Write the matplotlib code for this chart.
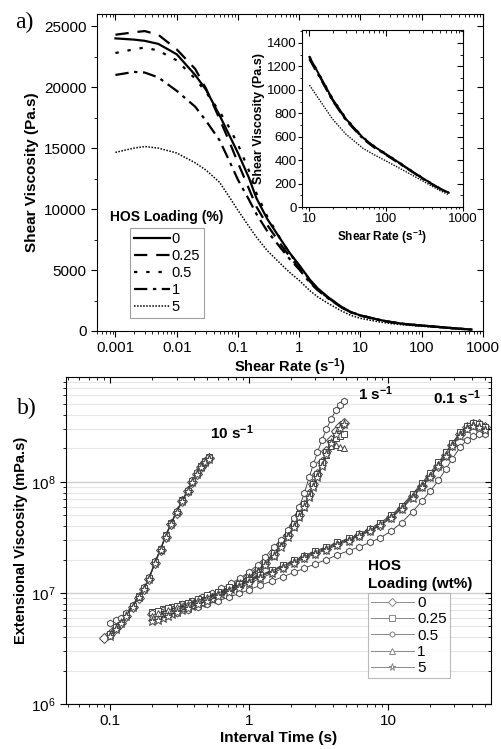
import matplotlib
matplotlib.use('Agg')
import matplotlib.pyplot as plt
import numpy as np
from matplotlib.ticker import LogLocator, MultipleLocator, NullFormatter, FixedLocator, FixedFormatter

plt.rcParams['font.family'] = ['Liberation Sans', 'DejaVu Sans']
plt.rcParams['mathtext.default'] = 'regular'
nan = np.nan

# ---------------- panel a) shear viscosity ----------------
shear_rate = [0.001, 0.002, 0.003, 0.005, 0.01, 0.02, 0.03, 0.05, 0.07, 0.1, 0.15, 0.2, 0.3, 0.5,
              0.7, 1, 1.5, 2, 3, 5, 7, 10, 15, 20, 30, 50, 70, 100, 150, 200, 300, 400, 500, 650]
visc_0 = [24000, 23900, 23800, 23550, 22700, 21000, 19800, 17700, 16200, 14600, 12600, 10900, 9200,
          7500, 6400, 5400, 4200, 3500, 2750, 1950, 1550, 1280, 1070, 920, 750, 590, 515, 450, 375,
          320, 245, 195, 158, 122]
visc_025 = [24300, 24500, 24600, 24300, 23100, 21500, 19900, 17400, 15700, 13800, 11700, 10200, 8700,
            7100, 6100, 5150, 4050, 3400, 2700, 1920, 1530, 1270, 1062, 912, 743, 585, 510, 446, 371,
            317, 242, 193, 156, 120]
visc_05 = [22800, 23100, 23250, 23000, 22200, 20700, 19600, 18000, 16800, 15300, 13200, 11300, 9400,
           7500, 6350, 5350, 4150, 3450, 2720, 1940, 1545, 1285, 1075, 925, 755, 594, 518, 453, 377,
           322, 247, 196, 159, 123]
visc_1 = [21000, 21250, 21200, 20800, 19700, 18400, 17250, 15650, 14100, 12400, 10800, 9600, 8200,
          6800, 5900, 5050, 3950, 3350, 2650, 1900, 1520, 1260, 1055, 905, 738, 580, 506, 443, 368,
          314, 240, 191, 155, 119]
visc_5 = [14650, 15000, 15130, 15000, 14600, 13800, 13200, 12200, 11100, 9900, 8600, 7700, 6600,
          5500, 4800, 4150, 3300, 2800, 2250, 1620, 1280, 1040, 870, 750, 620, 500, 445, 392, 330,
          285, 222, 175, 140, 105]
loadings_a = ['0', '0.25', '0.5', '1', '5']

# ---------------- panel b) extensional viscosity ----------------
loadings_b = ['0', '0.25', '0.5', '1', '5']
markers_b = ['D', 's', 'h', '^', '*']

# 10 s^-1
t10 = [0.09, 0.1, 0.11, 0.12, 0.13, 0.145, 0.16, 0.175, 0.19, 0.21, 0.23, 0.25, 0.275, 0.3, 0.33,
       0.36, 0.39, 0.42, 0.45, 0.48, 0.51]
e10 = {
    '0': [3.9e6, 4.3e6, 4.8e6, 5.4e6, 6.2e6, 7.5e6, 9.0e6, 1.08e7, 1.33e7, 1.85e7, 2.45e7, 3.2e7,
          4.2e7, 5.3e7, 6.7e7, 8.3e7, 1.0e8, 1.18e8, 1.36e8, 1.52e8, 1.65e8],
    '0.25': [nan, 4.3e6, 4.9e6, 5.6e6, 6.4e6, 7.7e6, 9.3e6, 1.1e7, 1.36e7, 1.9e7, 2.5e7, 3.3e7,
             4.3e7, 5.4e7, 6.8e7, 8.3e7, 1.01e8, 1.2e8, 1.38e8, 1.53e8, 1.66e8],
    '0.5': [nan, 5.4e6, 5.7e6, 6.0e6, 6.6e6, 7.8e6, 9.4e6, 1.12e7, 1.38e7, 1.92e7, 2.5e7, 3.3e7,
            4.3e7, 5.5e7, 6.9e7, 8.5e7, 1.03e8, 1.22e8, 1.4e8, 1.55e8, 1.68e8],
    '1': [nan, 4.2e6, 4.8e6, 5.5e6, 6.3e6, 7.6e6, 9.2e6, 1.1e7, 1.35e7, 1.88e7, 2.45e7, 3.25e7,
          4.25e7, 5.4e7, 6.8e7, 8.3e7, 1.0e8, 1.19e8, 1.37e8, 1.52e8, 1.64e8],
    '5': [nan, 4.1e6, 4.7e6, 5.4e6, 6.2e6, 7.5e6, 9.1e6, 1.09e7, 1.34e7, 1.87e7, 2.45e7, 3.2e7,
          4.2e7, 5.35e7, 6.7e7, 8.2e7, 1.0e8, 1.18e8, 1.36e8, 1.5e8, 1.62e8],
}

# 1 s^-1
t1 = [0.2, 0.24, 0.28, 0.33, 0.39, 0.46, 0.54, 0.63, 0.74, 0.86, 1.0, 1.15, 1.3, 1.5, 1.7, 1.9,
      2.1, 2.3, 2.5, 2.7, 2.9, 3.1, 3.35, 3.6, 3.9, 4.2, 4.5, 4.8]
e1 = {
    '0': [6.4e6, 6.8e6, 7.2e6, 7.7e6, 8.2e6, 8.8e6, 9.5e6, 1.04e7, 1.14e7, 1.26e7, 1.42e7, 1.62e7,
          1.86e7, 2.25e7, 2.75e7, 3.35e7, 4.1e7, 5.0e7, 6.2e7, 7.7e7, 9.5e7, 1.17e8, 1.5e8, 1.9e8,
          2.4e8, 2.85e8, 3.2e8, 3.4e8],
    '0.25': [6.8e6, 7.1e6, 7.5e6, 7.9e6, 8.4e6, 9.0e6, 9.7e6, 1.06e7, 1.16e7, 1.28e7, 1.44e7, 1.64e7,
             1.9e7, 2.3e7, 2.8e7, 3.4e7, 4.2e7, 5.1e7, 6.3e7, 7.8e7, 9.6e7, 1.18e8, 1.5e8, 1.85e8,
             2.25e8, 2.5e8, 2.6e8, 2.7e8],
    '0.5': [6.6e6, 7.0e6, 7.4e6, 7.9e6, 8.5e6, 9.2e6, 1.0e7, 1.1e7, 1.22e7, 1.36e7, 1.55e7, 1.8e7,
            2.1e7, 2.6e7, 3.0e7, 3.7e7, 4.7e7, 6.0e7, 8.0e7, 1.1e8, 1.45e8, 1.85e8, 2.4e8, 3.0e8,
            3.7e8, 4.4e8, 4.9e8, 5.3e8],
    '1': [6.2e6, 6.6e6, 7.0e6, 7.5e6, 8.0e6, 8.6e6, 9.3e6, 1.02e7, 1.12e7, 1.24e7, 1.4e7, 1.6e7,
          1.84e7, 2.2e7, 2.7e7, 3.3e7, 4.0e7, 4.9e7, 6.0e7, 7.4e7, 9.1e7, 1.12e8, 1.42e8, 1.75e8,
          2.1e8, 2.15e8, 2.05e8, 2.0e8],
    '5': [5.6e6, 6.0e6, 6.5e6, 7.0e6, 7.6e6, 8.2e6, 8.9e6, 9.8e6, 1.08e7, 1.2e7, 1.36e7, 1.55e7,
          1.78e7, 2.15e7, 2.6e7, 3.2e7, 3.9e7, 4.8e7, 5.9e7, 7.3e7, 9.0e7, 1.1e8, 1.4e8, 1.78e8,
          2.25e8, 2.7e8, 3.05e8, 3.3e8],
}

# 0.1 s^-1
t01 = [0.22, 0.26, 0.3, 0.36, 0.43, 0.5, 0.6, 0.72, 0.85, 1.0, 1.2, 1.45, 1.75, 2.1, 2.5, 3.0,
       3.6, 4.3, 5.2, 6.2, 7.4, 8.8, 10.5, 12.5, 15, 17.5, 20, 23, 26, 29, 33, 37, 41, 45, 50]
e01 = {
    '0': [6.3e6, 6.8e6, 7.2e6, 7.8e6, 8.4e6, 9.0e6, 9.8e6, 1.07e7, 1.16e7, 1.27e7, 1.4e7, 1.55e7,
          1.72e7, 1.9e7, 2.1e7, 2.3e7, 2.5e7, 2.75e7, 3.0e7, 3.3e7, 3.65e7, 4.1e7, 4.8e7, 5.8e7,
          7.4e7, 9.2e7, 1.12e8, 1.4e8, 1.75e8, 2.15e8, 2.7e8, 3.1e8, 3.3e8, 3.3e8, 3.1e8],
    '0.25': [6.9e6, 7.3e6, 7.7e6, 8.2e6, 8.8e6, 9.5e6, 1.03e7, 1.12e7, 1.21e7, 1.32e7, 1.45e7, 1.6e7,
             1.78e7, 1.97e7, 2.17e7, 2.4e7, 2.6e7, 2.85e7, 3.1e7, 3.4e7, 3.8e7, 4.3e7, 5.0e7, 6.1e7,
             7.8e7, 9.8e7, 1.2e8, 1.5e8, 1.85e8, 2.25e8, 2.8e8, 3.2e8, 3.4e8, 3.35e8, 3.15e8],
    '0.5': [6.0e6, 6.3e6, 6.6e6, 7.0e6, 7.4e6, 7.9e6, 8.5e6, 9.2e6, 9.9e6, 1.07e7, 1.17e7, 1.28e7,
            1.4e7, 1.53e7, 1.67e7, 1.83e7, 2.0e7, 2.2e7, 2.4e7, 2.6e7, 2.85e7, 3.15e7, 3.6e7, 4.3e7,
            5.4e7, 6.7e7, 8.2e7, 1.03e8, 1.3e8, 1.62e8, 2.05e8, 2.4e8, 2.6e8, 2.7e8, 2.7e8],
    '1': [6.6e6, 7.0e6, 7.4e6, 8.0e6, 8.6e6, 9.2e6, 1.0e7, 1.09e7, 1.18e7, 1.29e7, 1.42e7, 1.57e7,
          1.75e7, 1.93e7, 2.13e7, 2.35e7, 2.55e7, 2.8e7, 3.05e7, 3.35e7, 3.7e7, 4.2e7, 4.9e7, 5.9e7,
          7.6e7, 9.5e7, 1.16e8, 1.45e8, 1.8e8, 2.2e8, 2.75e8, 3.15e8, 3.3e8, 3.2e8, 3.0e8],
    '5': [5.7e6, 6.2e6, 6.7e6, 7.3e6, 7.9e6, 8.5e6, 9.3e6, 1.02e7, 1.11e7, 1.22e7, 1.35e7, 1.5e7,
          1.67e7, 1.85e7, 2.05e7, 2.25e7, 2.45e7, 2.7e7, 2.95e7, 3.25e7, 3.6e7, 4.05e7, 4.7e7, 5.7e7,
          7.2e7, 9.0e7, 1.1e8, 1.38e8, 1.7e8, 2.1e8, 2.6e8, 3.0e8, 3.2e8, 3.15e8, 2.95e8],
}

W, H = 502, 749
fig = plt.figure(figsize=(W / 100, H / 100), dpi=100)


def box(l, t, r, b):
    return [l / W, 1 - b / H, (r - l) / W, (b - t) / H]


def mirror_ticks(ax, xlog, ylog, ymaj=None, ymin=None):
    # top/right ticks point inwards, bottom/left point outwards
    tx = ax.twiny()
    if xlog:
        tx.set_xscale('log')
        tx.xaxis.set_minor_locator(LogLocator(subs=np.arange(2, 10), numticks=30))
    tx.set_xlim(ax.get_xlim())
    tx.tick_params(axis='x', which='both', direction='in', labeltop=False)
    tx.tick_params(axis='x', which='major', length=4)
    tx.tick_params(axis='x', which='minor', length=2)
    ty = ax.twinx()
    if ylog:
        ty.set_yscale('log')
        ty.yaxis.set_minor_locator(LogLocator(subs=np.arange(2, 10), numticks=30))
    else:
        ty.yaxis.set_major_locator(MultipleLocator(ymaj))
        ty.yaxis.set_minor_locator(MultipleLocator(ymin))
    ty.set_ylim(ax.get_ylim())
    ty.tick_params(axis='y', which='both', direction='in', labelright=False)
    ty.tick_params(axis='y', which='major', length=4)
    ty.tick_params(axis='y', which='minor', length=2)
    for a in (tx, ty):
        for s in a.spines.values():
            s.set_visible(False)


# ---- panel a
ax1 = fig.add_axes(box(97, 14, 483, 331))
styles = [dict(ls='-', lw=1.6), dict(ls=(0, (6, 4)), lw=1.6), dict(ls=(0, (1.5, 4)), lw=1.6),
          dict(ls=(0, (6, 2.5, 1.5, 2.5)), lw=1.6), dict(ls=(0, (1, 1)), lw=1.1)]
series_a = [visc_0, visc_025, visc_05, visc_1, visc_5]
for v, lab, st in zip(series_a, loadings_a, styles):
    ax1.plot(shear_rate, v, color='black', label=lab, **st)
ax1.set_xscale('log')
ax1.set_xlim(0.0005, 1000)
ax1.set_ylim(0, 26000)
ax1.xaxis.set_major_locator(FixedLocator([0.001, 0.01, 0.1, 1, 10, 100, 1000]))
ax1.xaxis.set_major_formatter(FixedFormatter(['0.001', '0.01', '0.1', '1', '10', '100', '1000']))
ax1.xaxis.set_minor_locator(LogLocator(subs=np.arange(2, 10), numticks=30))
ax1.xaxis.set_minor_formatter(NullFormatter())
ax1.yaxis.set_major_locator(MultipleLocator(5000))
ax1.yaxis.set_minor_locator(MultipleLocator(2500))
ax1.tick_params(which='both', direction='out', labelsize=11)
ax1.tick_params(which='major', length=4)
ax1.tick_params(which='minor', length=2)
ax1.set_xlabel('Shear Rate (s$^{-1}$)', fontsize=10.5, fontweight='bold', labelpad=1)
ax1.set_ylabel('Shear Viscosity (Pa.s)', fontsize=11, fontweight='bold', labelpad=4)
mirror_ticks(ax1, True, False, 5000, 2500)
leg = ax1.legend(loc='upper left', bbox_to_anchor=((130 - 97) / 386, 1 - (228 - 14) / 317),
                 fontsize=10.5, frameon=True, fancybox=False, edgecolor='#888888',
                 handlelength=2.5, handletextpad=0.1, labelspacing=0.22, borderpad=0.25,
                 borderaxespad=0)
leg.get_frame().set_linewidth(0.8)
fig.text(167 / W, 1 - 217 / H, 'HOS Loading (%)', fontsize=10, fontweight='bold',
         ha='center', va='center')

# inset
ax2 = fig.add_axes(box(302, 30, 463, 207))
ins_mask = [i for i, x in enumerate(shear_rate) if x >= 10]
for v, st in zip(series_a, styles):
    st2 = dict(st)
    st2['lw'] = st['lw'] * 0.9
    ax2.plot([shear_rate[i] for i in ins_mask], [v[i] for i in ins_mask], color='black', **st2)
ax2.set_xscale('log')
ax2.set_xlim(8, 1000)
ax2.set_ylim(0, 1510)
ax2.xaxis.set_major_locator(FixedLocator([10, 100, 1000]))
ax2.xaxis.set_major_formatter(FixedFormatter(['10', '100', '1000']))
ax2.xaxis.set_minor_locator(LogLocator(subs=np.arange(2, 10), numticks=30))
ax2.xaxis.set_minor_formatter(NullFormatter())
ax2.yaxis.set_major_locator(MultipleLocator(200))
ax2.yaxis.set_minor_locator(MultipleLocator(100))
ax2.tick_params(which='both', direction='out', labelsize=9.5, pad=1)
ax2.tick_params(which='major', length=3)
ax2.tick_params(which='minor', length=1.5)
ax2.set_xlabel('Shear Rate (s$^{-1}$)', fontsize=8.5, fontweight='bold', labelpad=2)
ax2.set_ylabel('Shear Viscosity (Pa.s)', fontsize=9, fontweight='bold', labelpad=1)
mirror_ticks(ax2, True, False, 200, 100)

fig.text(15 / W, 1 - 22 / H, 'a)', fontsize=17, family='Liberation Serif', va='center')

# ---- panel b
ax3 = fig.add_axes(box(66, 377, 491, 704))
groups = [(t10, e10), (t1, e1), (t01, e01)]
for gi, (tt, ee) in enumerate(groups):
    for lab, mk in zip(loadings_b, markers_b):
        ms = 6.5 if mk == '*' else 4.8
        ax3.plot(tt, ee[lab], color='#333333', lw=0.6, marker=mk, ms=ms, mfc='white',
                 mec='#444444', mew=0.7, label=lab if gi == 0 else None)
ax3.set_xscale('log')
ax3.set_yscale('log')
ax3.set_xlim(0.048, 55)
ax3.set_ylim(1e6, 8.8e8)
ax3.xaxis.set_major_locator(FixedLocator([0.1, 1, 10]))
ax3.xaxis.set_major_formatter(FixedFormatter(['0.1', '1', '10']))
ax3.xaxis.set_minor_locator(LogLocator(subs=np.arange(2, 10), numticks=30))
ax3.xaxis.set_minor_formatter(NullFormatter())
ax3.yaxis.set_minor_locator(LogLocator(subs=np.arange(2, 10), numticks=30))
ax3.yaxis.set_minor_formatter(NullFormatter())
ax3.grid(True, which='major', axis='y', color='#cfcfcf', lw=1.0)
ax3.grid(True, which='minor', axis='y', color='#e6e6e6', lw=0.8)
ax3.set_axisbelow(True)
ax3.tick_params(which='both', direction='out', labelsize=11)
ax3.tick_params(which='major', length=4)
ax3.tick_params(which='minor', length=2)
ax3.set_xlabel('Interval Time (s)', fontsize=11, fontweight='bold', labelpad=2)
ax3.set_ylabel('Extensional Viscosity (mPa.s)', fontsize=10.5, fontweight='bold', labelpad=2)
mirror_ticks(ax3, True, True)

ax3.text(0.52, 2.8e8, '10 s$^{-1}$', fontsize=11, fontweight='bold', va='center')
ax3.text(6.1, 6.2e8, '1 s$^{-1}$', fontsize=11, fontweight='bold', va='center')
ax3.text(21, 5.7e8, '0.1 s$^{-1}$', fontsize=11, fontweight='bold', va='center')

leg2 = ax3.legend(loc='upper left', bbox_to_anchor=((368 - 66) / 425, 1 - (593 - 377) / 327),
                  fontsize=11, frameon=True, fancybox=False, edgecolor='#aaaaaa',
                  handlelength=2.8, handletextpad=0.2, labelspacing=0.15, borderpad=0.2,
                  borderaxespad=0, markerscale=0.8)
leg2.get_frame().set_linewidth(0.8)
for h in leg2.get_lines():
    h.set_color('#777777')
    h.set_markeredgecolor('#888888')
fig.text(368 / W, 1 - 575 / H, 'HOS\nLoading (wt%)', fontsize=11, fontweight='bold',
         va='center', ha='left', linespacing=1.3)

fig.text(17 / W, 1 - 408 / H, 'b)', fontsize=17, family='Liberation Serif', va='center')

fig.savefig('out.png', dpi=100)
